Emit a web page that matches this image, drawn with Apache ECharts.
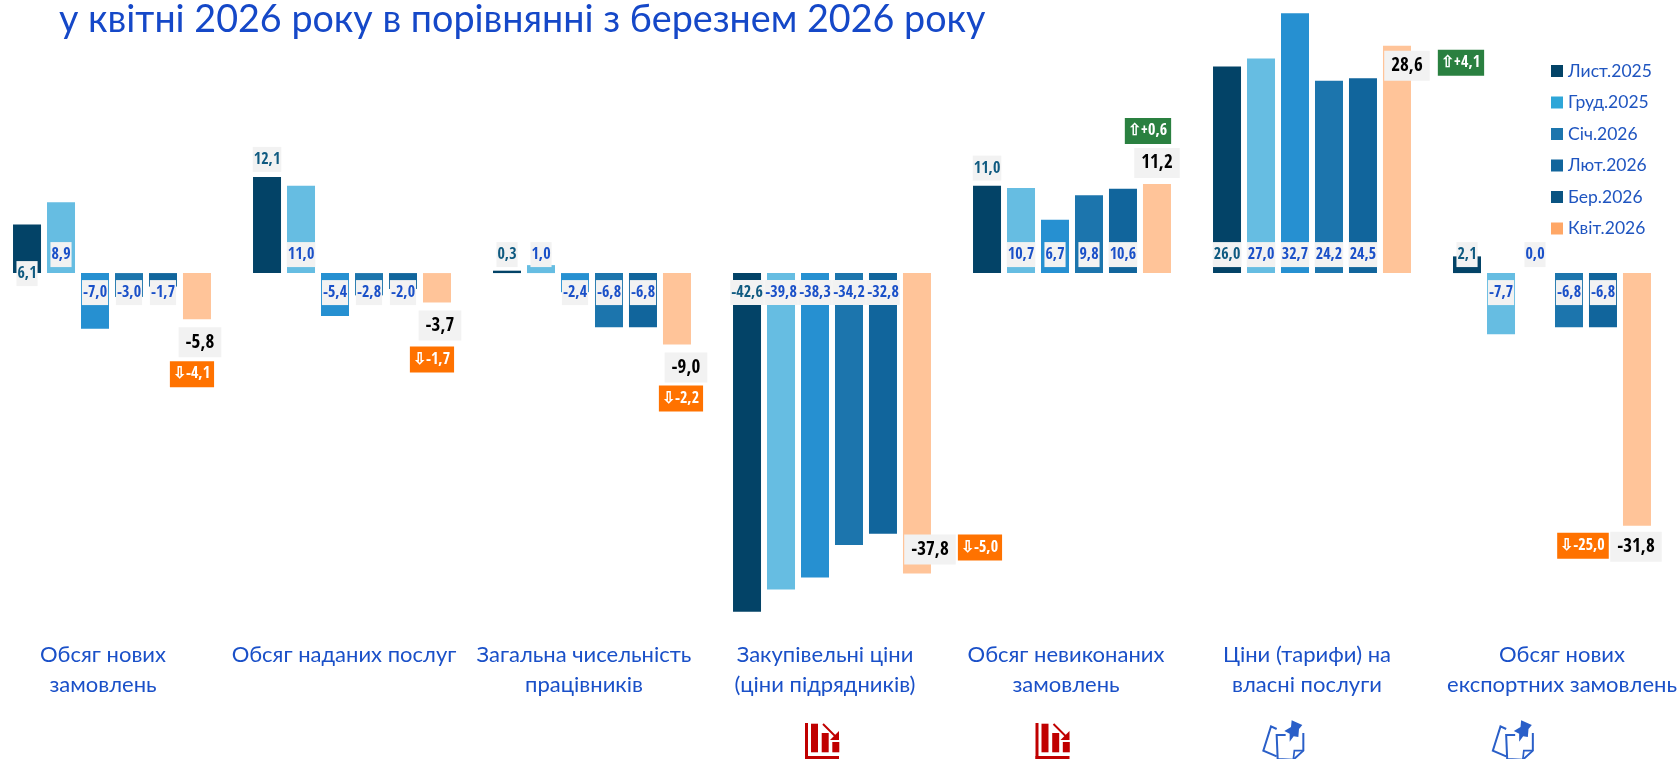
<!DOCTYPE html>
<html><head><meta charset="utf-8">
<style>html,body{margin:0;padding:0;background:#fff;overflow:hidden}#c{position:absolute;left:-8px;top:0;width:1688px;height:759px}</style>
<script src="https://cdn.jsdelivr.net/npm/echarts@6/dist/echarts.min.js"></script>
</head><body><div id="c"></div>
<script>
const categories = ['Обсяг нових\nзамовлень','Обсяг наданих послуг\n ','Загальна чисельність\nпрацівників','Закупівельні ціни\n(ціни підрядників)','Обсяг невиконаних\nзамовлень','Ціни (тарифи) на\nвласні послуги','Обсяг нових\nекспортних замовлень'];
const lyst2025 = [6.1,12.1,0.3,-42.6,11.0,26.0,2.1];
const hrud2025 = [8.9,11.0,1.0,-39.8,10.7,27.0,-7.7];
const sich2026 = [-7.0,-5.4,-2.4,-38.3,6.7,32.7,0.0];
const liut2026 = [-3.0,-2.8,-6.8,-34.2,9.8,24.2,-6.8];
const ber2026 = [-1.7,-2.0,-6.8,-32.8,10.6,24.5,-6.8];
const kvit2026 = [-5.8,-3.7,-9.0,-37.8,11.2,28.6,-31.8];
const deltas = [-4.1,-1.7,-2.2,-5.0,0.6,4.1,-25.0];
const seriesNames = ['Лист.2025','Груд.2025','Січ.2026','Лют.2026','Бер.2026','Квіт.2026'];
const seriesValues = [lyst2025,hrud2025,sich2026,liut2026,ber2026,kvit2026];

const barColors = ['#034367','#66bde2','#2690d1','#1c75ad','#11659c','#ffc499'];
const legendColors = ['#034367','#2ea6d8','#1c75ad','#11659c','#0a5482','#ffa766'];
const blue = '#1a50c8';
const FONT = 'Lato, "Noto Sans", sans-serif';
const NARROW = '"Open Sans Condensed", "Roboto Condensed", sans-serif';
const catShift = [-9,-8,-8,-7,-6,-5,10];

// label placement exceptions: series -> group -> [position, offset]
const place = {
  0:{0:['insideBottom',[0,18]],1:['top',[0,0]],4:['top',[0,0]]},
  5:{0:['bottom',[3,3]],1:['bottom',[3,3]],2:['bottom',[9,3]],3:['insideBottom',[13,-4]],4:['top',[0,-1]],5:['insideTop',[10,0]],6:['bottom',[-1,1]]}
};
const deltaOffset = [[-5,55],[-5,57],[4,54],[63,-26],[-9,-53],[64,17],[-54,20]];
const fmt = v => v.toFixed(1).replace('.',',');

const series = seriesValues.map((vals,si)=>{
  const last = si===5;
  return {
    type:'bar', name:seriesNames[si], barWidth:28, barGap:'21.4%',
    itemStyle:{color:barColors[si]},
    label:{show:false},
    data: vals.map((v,gi)=>{
      const p = (place[si]&&place[si][gi]) || [v>=0?'insideBottom':'insideTop',[0,v>=0?-1:2]];
      return {value:v,label:{
        show:true, position:p[0], offset:p[1], distance:5,
        formatter:fmt(v), fontFamily:NARROW, fontWeight:'bold',
        fontSize:last?19:16, color:last?'#000':(si===0?'#0f5a80':blue),
        backgroundColor:'#f2f2f2', padding:last?[5,7,4,7]:[5,1,4,1], lineHeight:last?21:16
      }};
    }),
    markPoint: last ? {
      symbol:'rect', symbolSize:1, itemStyle:{color:'transparent'}, silent:true, animation:false,
      data: deltas.map((d,gi)=>({
        coord:[gi,kvit2026[gi]],
        label:{show:true, position:'inside', offset:deltaOffset[gi], opacity:1,
          formatter:(d>0?'⇧+':'⇩')+fmt(d), color:'#fff', fontFamily:NARROW, fontWeight:'bold', fontSize:16,
          backgroundColor:d>0?'#2a8040':'#ff7200', padding:[5,4,4,3], lineHeight:17}
      }))
    } : undefined
  };
});

function redIcon(x){
  const st={fill:'#c00000'};
  return {type:'group',x:x+8,y:709,silent:true,children:[
    {type:'rect',shape:{x:0,y:14,width:3,height:36},style:st},
    {type:'rect',shape:{x:0,y:47,width:34,height:3},style:st},
    {type:'rect',shape:{x:6,y:14.7,width:7,height:28.6},style:st},
    {type:'rect',shape:{x:16.7,y:24,width:7,height:19.3},style:st},
    {type:'rect',shape:{x:27.3,y:33,width:7,height:10.3},style:st},
    {type:'line',shape:{x1:18,y1:15,x2:32,y2:29},style:{stroke:'#c00000',lineWidth:2}},
    {type:'polygon',shape:{points:[[34,31],[34,22],[25,31]]},style:st}
  ]};
}
function noteIcon(x){
  return {type:'group',x:x+8,y:709,silent:true,scaleX:1/3,scaleY:1/3,children:[
    {type:'polyline',shape:{points:[[65,60],[48,52],[25,125],[65,142]]},style:{stroke:'#2a5fc8',lineWidth:6,fill:null}},
    {type:'polyline',shape:{points:[[92,78],[65,78],[68,150],[115,152],[145,125],[145,72]]},style:{stroke:'#2a5fc8',lineWidth:6,fill:null}},
    {type:'polyline',shape:{points:[[115,152],[118,125],[145,125]]},style:{stroke:'#2a5fc8',lineWidth:5,fill:null}},
    {type:'polygon',shape:{points:[[110,34],[142,48],[132,60],[130,84],[116,82],[104,98],[104,74],[88,66],[108,54]]},style:{fill:'#2a5fc8'}}
  ]};
}

const chart = echarts.init(document.getElementById('c'),null,{renderer:'canvas'});
chart.setOption({
  animation:false,
  backgroundColor:'#fff',
  title:{text:'у квітні 2026 року в порівнянні з березнем 2026 року',left:67,top:1,padding:0,
    textStyle:{color:'#1548c8',fontFamily:FONT,fontWeight:'normal',fontSize:37.7}},
  legend:{orient:'vertical',left:1559,top:62,padding:0,itemWidth:12,itemHeight:12,itemGap:13.5,
    icon:'rect',selectedMode:false,
    textStyle:{color:'#1f55c0',fontFamily:FONT,fontSize:17.5},
    data:seriesNames.map((n,i)=>({name:n,itemStyle:{color:legendColors[i]}}))},
  grid:{left:0,width:1680,top:2.8,height:628,containLabel:false},
  xAxis:{type:'category',
    data:categories.map((c,i)=>({value:c,textStyle:{padding:catShift[i]<0?[0,-2*catShift[i],0,0]:[0,0,0,2*catShift[i]]}})),
    axisLine:{show:false,onZero:false},axisTick:{show:false},
    axisLabel:{interval:0,color:blue,fontFamily:FONT,fontSize:22,lineHeight:30,margin:9,hideOverlap:false}},
  yAxis:{type:'value',min:-45,max:34,show:false,splitLine:{show:false}},
  series:series,
  graphic:[redIcon(805),redIcon(1035.5),noteIcon(1255),noteIcon(1484.5)]
});
</script></body></html>
